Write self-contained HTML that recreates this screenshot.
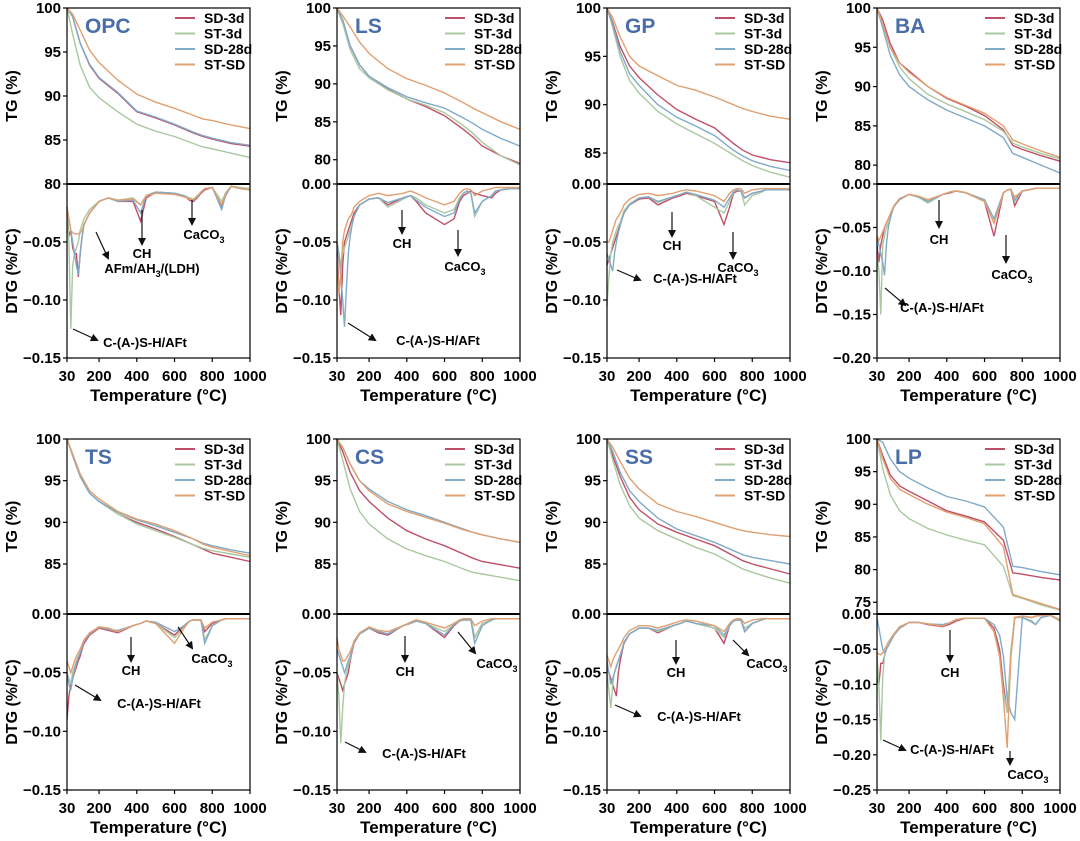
<!DOCTYPE html>
<html><head><meta charset="utf-8"><style>
html,body{margin:0;padding:0;background:#fff;}
svg{display:block;font-family:"Liberation Sans",Arial,sans-serif;}
</style></head><body>
<svg id="fig" width="1080" height="841" viewBox="0 0 1080 841" xmlns="http://www.w3.org/2000/svg">
<defs><marker id="ah" markerWidth="8" markerHeight="8" refX="6" refY="4" orient="auto" markerUnits="userSpaceOnUse"><path d="M0,0 L8,4 L0,8 Z" fill="#111"/></marker></defs>
</svg>
<script>
const seriesNames = ["SD-3d","ST-3d","SD-28d","ST-SD"];
const seriesColors = ["#c05068","#a9c8a0","#80aac8","#e0a070"];
const tgTemps = [30,60,100,150,200,300,400,500,600,700,750,800,900,1000];
const dtgTemps = [30,40,50,60,70,80,90,100,110,120,150,200,250,300,380,420,450,500,600,650,680,700,720,740,760,800,850,870,900,950,1000];
const xTicks = [30,200,400,600,800,1000];

const opcTG = [
[100,99,96,93.5,92,90.3,88.2,87.5,86.7,85.8,85.4,85.1,84.6,84.3],
[100,97,93.5,91,89.8,88.2,86.8,86,85.4,84.6,84.2,84,83.5,83],
[100,99,96,93.6,92.1,90.4,88.3,87.6,86.8,85.9,85.5,85.2,84.7,84.4],
[100,99.3,97.5,95.2,93.8,91.8,90.2,89.3,88.6,87.8,87.4,87.2,86.7,86.3]];
const opcDTG = [
[-0.02,-0.045,-0.04,-0.055,-0.06,-0.06,-0.08,-0.06,-0.045,-0.035,-0.025,-0.015,-0.012,-0.015,-0.015,-0.032,-0.012,-0.007,-0.008,-0.01,-0.014,-0.015,-0.012,-0.008,-0.005,-0.003,-0.02,-0.01,-0.002,-0.004,-0.005],
[-0.02,-0.05,-0.125,-0.07,-0.06,-0.055,-0.05,-0.04,-0.035,-0.03,-0.022,-0.015,-0.012,-0.014,-0.012,-0.018,-0.01,-0.007,-0.008,-0.01,-0.012,-0.013,-0.01,-0.007,-0.004,-0.003,-0.015,-0.008,-0.002,-0.003,-0.004],
[-0.02,-0.03,-0.04,-0.05,-0.06,-0.07,-0.078,-0.06,-0.045,-0.035,-0.025,-0.015,-0.012,-0.015,-0.014,-0.025,-0.01,-0.007,-0.008,-0.01,-0.013,-0.014,-0.011,-0.007,-0.004,-0.003,-0.022,-0.01,-0.002,-0.004,-0.005],
[-0.02,-0.03,-0.04,-0.042,-0.043,-0.043,-0.043,-0.042,-0.04,-0.035,-0.025,-0.015,-0.012,-0.014,-0.013,-0.018,-0.01,-0.008,-0.009,-0.011,-0.013,-0.014,-0.011,-0.007,-0.004,-0.003,-0.018,-0.008,-0.002,-0.004,-0.005]];

const lsTG = [
[100,98,95,92.5,91,89.3,88,87,85.8,84,83,81.8,80.5,79.5],
[100,98,94.5,92,90.8,89.2,88,87.2,86.2,84.5,83.5,82.3,80.5,79.3],
[100,98.5,95,92.5,91,89.5,88.3,87.5,86.8,85.5,84.8,84,82.8,81.8],
[100,99,97.5,95.5,94,92,90.7,89.8,88.8,87.5,86.8,86.2,85,84]];
const lsDTG = [
[-0.05,-0.09,-0.113,-0.07,-0.05,-0.045,-0.04,-0.035,-0.03,-0.025,-0.018,-0.013,-0.012,-0.018,-0.012,-0.01,-0.015,-0.025,-0.035,-0.03,-0.015,-0.01,-0.008,-0.006,-0.008,-0.01,-0.012,-0.008,-0.005,-0.004,-0.004],
[-0.05,-0.06,-0.07,-0.06,-0.055,-0.05,-0.045,-0.04,-0.035,-0.028,-0.018,-0.013,-0.012,-0.02,-0.013,-0.01,-0.012,-0.018,-0.025,-0.022,-0.012,-0.008,-0.006,-0.008,-0.028,-0.015,-0.01,-0.006,-0.005,-0.004,-0.004],
[-0.05,-0.06,-0.08,-0.1,-0.123,-0.09,-0.06,-0.045,-0.035,-0.028,-0.018,-0.013,-0.012,-0.016,-0.012,-0.01,-0.014,-0.02,-0.028,-0.025,-0.013,-0.008,-0.006,-0.008,-0.025,-0.015,-0.01,-0.006,-0.005,-0.004,-0.004],
[-0.06,-0.095,-0.08,-0.05,-0.04,-0.035,-0.03,-0.028,-0.025,-0.02,-0.015,-0.01,-0.008,-0.01,-0.008,-0.006,-0.008,-0.012,-0.018,-0.015,-0.008,-0.005,-0.004,-0.005,-0.01,-0.006,-0.004,-0.003,-0.003,-0.003,-0.003]];

const gpTG = [
[100,98.5,96,94,92.8,91,89.5,88.5,87.6,86,85.3,84.8,84.3,84],
[100,98,95,92.5,91.2,89.3,88,87,86,84.8,84.2,83.7,83,82.5],
[100,98.3,95.5,93.2,92,90,88.7,87.8,86.8,85.3,84.7,84.2,83.6,83.2],
[100,99,97,95,94,93,92,91.5,90.8,90,89.6,89.3,88.8,88.5]];
const gpDTG = [
[-0.07,-0.065,-0.06,-0.055,-0.05,-0.045,-0.04,-0.035,-0.03,-0.025,-0.018,-0.013,-0.012,-0.018,-0.012,-0.01,-0.008,-0.01,-0.015,-0.035,-0.02,-0.008,-0.006,-0.006,-0.012,-0.008,-0.006,-0.005,-0.005,-0.005,-0.005],
[-0.105,-0.08,-0.06,-0.05,-0.045,-0.04,-0.036,-0.033,-0.028,-0.023,-0.017,-0.012,-0.011,-0.016,-0.011,-0.009,-0.007,-0.01,-0.02,-0.025,-0.015,-0.007,-0.005,-0.006,-0.018,-0.01,-0.007,-0.005,-0.005,-0.005,-0.005],
[-0.06,-0.065,-0.07,-0.075,-0.06,-0.05,-0.042,-0.036,-0.03,-0.025,-0.018,-0.012,-0.011,-0.015,-0.011,-0.009,-0.007,-0.009,-0.014,-0.02,-0.012,-0.007,-0.005,-0.006,-0.012,-0.008,-0.006,-0.005,-0.005,-0.005,-0.005],
[-0.05,-0.05,-0.045,-0.04,-0.035,-0.03,-0.028,-0.025,-0.022,-0.018,-0.013,-0.009,-0.008,-0.01,-0.008,-0.006,-0.005,-0.006,-0.01,-0.015,-0.008,-0.005,-0.004,-0.004,-0.008,-0.005,-0.004,-0.004,-0.004,-0.004,-0.004]];

const baTG = [
[100,98.5,95.5,93,92,90,88.5,87.5,86.3,84.5,82.5,82,81.2,80.5],
[100,98,95,92.5,91,89,87.8,86.8,85.8,84.3,82.8,82.3,81.5,80.8],
[100,97.5,94,91.5,90,88.3,87,86,85,83.5,81.5,81,80,79],
[100,98,95,93,91.8,90,88.6,87.6,86.6,85,83.2,82.7,81.8,81]];
const baDTG = [
[-0.07,-0.09,-0.07,-0.06,-0.05,-0.045,-0.04,-0.035,-0.03,-0.025,-0.017,-0.012,-0.015,-0.02,-0.012,-0.01,-0.008,-0.01,-0.02,-0.06,-0.03,-0.01,-0.007,-0.006,-0.025,-0.008,-0.006,-0.005,-0.005,-0.005,-0.005],
[-0.08,-0.1,-0.15,-0.07,-0.06,-0.05,-0.045,-0.04,-0.032,-0.026,-0.018,-0.012,-0.015,-0.022,-0.012,-0.009,-0.008,-0.01,-0.02,-0.045,-0.025,-0.01,-0.007,-0.006,-0.02,-0.008,-0.006,-0.005,-0.005,-0.005,-0.005],
[-0.06,-0.07,-0.08,-0.09,-0.105,-0.07,-0.05,-0.04,-0.032,-0.026,-0.018,-0.012,-0.015,-0.02,-0.012,-0.009,-0.008,-0.01,-0.018,-0.04,-0.022,-0.01,-0.007,-0.006,-0.018,-0.008,-0.006,-0.005,-0.005,-0.005,-0.005],
[-0.06,-0.065,-0.06,-0.055,-0.05,-0.045,-0.04,-0.035,-0.03,-0.025,-0.017,-0.012,-0.014,-0.018,-0.012,-0.009,-0.008,-0.01,-0.02,-0.045,-0.025,-0.01,-0.007,-0.006,-0.015,-0.008,-0.006,-0.005,-0.005,-0.005,-0.005]];

const tsTG = [
[100,98,95.5,93.5,92.5,91,90,89.2,88.3,87.3,86.8,86.3,85.8,85.3],
[100,98,95.5,93.5,92.5,91,89.8,89,88.2,87.3,86.9,86.6,86.2,85.8],
[100,98,95.5,93.5,92.5,91.2,90.3,89.6,88.8,88,87.5,87.2,86.7,86.3],
[100,98.2,95.8,93.8,92.8,91.3,90.4,89.8,89,88,87.4,87,86.5,86]];
const tsDTG = [
[-0.09,-0.07,-0.06,-0.055,-0.05,-0.045,-0.04,-0.036,-0.03,-0.025,-0.018,-0.012,-0.014,-0.016,-0.01,-0.008,-0.006,-0.008,-0.018,-0.01,-0.006,-0.005,-0.005,-0.005,-0.015,-0.008,-0.005,-0.004,-0.004,-0.004,-0.004],
[-0.05,-0.055,-0.06,-0.05,-0.045,-0.04,-0.036,-0.033,-0.028,-0.023,-0.017,-0.011,-0.013,-0.015,-0.01,-0.008,-0.006,-0.008,-0.02,-0.012,-0.006,-0.005,-0.005,-0.005,-0.022,-0.01,-0.005,-0.004,-0.004,-0.004,-0.004],
[-0.05,-0.06,-0.065,-0.055,-0.048,-0.042,-0.037,-0.033,-0.028,-0.023,-0.017,-0.011,-0.013,-0.014,-0.01,-0.008,-0.006,-0.007,-0.015,-0.01,-0.006,-0.005,-0.005,-0.005,-0.025,-0.01,-0.005,-0.004,-0.004,-0.004,-0.004],
[-0.04,-0.045,-0.05,-0.045,-0.04,-0.036,-0.033,-0.03,-0.026,-0.022,-0.016,-0.011,-0.012,-0.015,-0.01,-0.008,-0.006,-0.008,-0.025,-0.012,-0.006,-0.005,-0.005,-0.005,-0.012,-0.007,-0.005,-0.004,-0.004,-0.004,-0.004]];

const csTG = [
[100,98.5,96,93.8,92.5,90.5,89,88,87.2,86.2,85.7,85.3,84.9,84.5],
[100,97.5,94,91.3,89.8,88,86.8,86,85.3,84.4,84,83.8,83.4,83],
[100,99,97,95,94,92.5,91.5,90.8,90,89.2,88.8,88.5,88,87.6],
[100,99,97,95,93.8,92.2,91.3,90.6,89.9,89.1,88.8,88.5,88,87.6]];
const csDTG = [
[-0.05,-0.055,-0.06,-0.065,-0.06,-0.055,-0.05,-0.04,-0.032,-0.025,-0.017,-0.012,-0.016,-0.018,-0.01,-0.008,-0.006,-0.008,-0.02,-0.01,-0.006,-0.005,-0.005,-0.005,-0.02,-0.008,-0.005,-0.004,-0.004,-0.004,-0.004],
[-0.05,-0.07,-0.11,-0.08,-0.06,-0.05,-0.044,-0.038,-0.03,-0.024,-0.017,-0.012,-0.015,-0.017,-0.01,-0.008,-0.006,-0.008,-0.015,-0.009,-0.006,-0.005,-0.005,-0.005,-0.02,-0.008,-0.005,-0.004,-0.004,-0.004,-0.004],
[-0.03,-0.035,-0.04,-0.045,-0.05,-0.045,-0.04,-0.036,-0.03,-0.024,-0.017,-0.012,-0.015,-0.017,-0.01,-0.008,-0.006,-0.008,-0.018,-0.009,-0.006,-0.005,-0.005,-0.005,-0.025,-0.01,-0.005,-0.004,-0.004,-0.004,-0.004],
[-0.02,-0.03,-0.035,-0.04,-0.04,-0.038,-0.035,-0.032,-0.028,-0.023,-0.016,-0.011,-0.014,-0.015,-0.01,-0.007,-0.005,-0.007,-0.012,-0.008,-0.005,-0.004,-0.004,-0.004,-0.01,-0.006,-0.004,-0.004,-0.004,-0.004,-0.004]];

const ssTG = [
[100,98,95.5,93,91.5,89.8,88.8,88,87.2,86,85.4,85,84.4,83.8],
[100,97.5,94.5,92,90.5,89,88,87,86.2,85,84.4,84,83.3,82.7],
[100,98.5,96,93.8,92.5,90.5,89.2,88.4,87.6,86.6,86.1,85.8,85.4,85],
[100,99,97.3,95.3,94,92.2,91.3,90.7,90,89.3,89,88.8,88.5,88.3]];
const ssDTG = [
[-0.045,-0.05,-0.055,-0.06,-0.065,-0.07,-0.05,-0.04,-0.032,-0.025,-0.017,-0.012,-0.012,-0.016,-0.01,-0.008,-0.006,-0.008,-0.012,-0.025,-0.01,-0.006,-0.005,-0.005,-0.015,-0.008,-0.005,-0.004,-0.004,-0.004,-0.004],
[-0.05,-0.065,-0.08,-0.06,-0.05,-0.044,-0.04,-0.035,-0.03,-0.024,-0.017,-0.012,-0.012,-0.015,-0.01,-0.008,-0.006,-0.008,-0.012,-0.02,-0.01,-0.006,-0.005,-0.005,-0.012,-0.008,-0.005,-0.004,-0.004,-0.004,-0.004],
[-0.04,-0.05,-0.06,-0.055,-0.05,-0.045,-0.04,-0.035,-0.03,-0.024,-0.017,-0.012,-0.012,-0.014,-0.01,-0.008,-0.006,-0.008,-0.01,-0.018,-0.01,-0.006,-0.005,-0.005,-0.015,-0.008,-0.005,-0.004,-0.004,-0.004,-0.004],
[-0.035,-0.04,-0.045,-0.04,-0.036,-0.033,-0.03,-0.027,-0.024,-0.02,-0.014,-0.01,-0.01,-0.012,-0.008,-0.006,-0.005,-0.006,-0.01,-0.015,-0.008,-0.005,-0.004,-0.004,-0.008,-0.005,-0.004,-0.004,-0.004,-0.004,-0.004]];

const lpTG = [
[100,97.5,94.5,92.8,92,90.5,89,88.2,87.3,84.5,79.5,79.3,78.8,78.4],
[100,95.5,91.5,89,87.8,86.3,85.3,84.5,83.8,80.5,76,75.6,74.6,73.8],
[100,99.5,97,95,94,92.5,91.2,90.5,89.6,86.5,80.5,80.3,79.7,79.2],
[100,97,94,92.3,91.5,90,88.8,88,87,83.5,76.2,75.7,74.8,73.9]];
const lpDTG = [
[-0.09,-0.1,-0.07,-0.07,-0.06,-0.05,-0.045,-0.04,-0.035,-0.03,-0.02,-0.012,-0.012,-0.015,-0.018,-0.014,-0.01,-0.006,-0.006,-0.02,-0.05,-0.1,-0.14,-0.06,-0.005,-0.003,-0.005,-0.003,-0.002,-0.002,-0.01],
[-0.06,-0.1,-0.18,-0.09,-0.06,-0.05,-0.045,-0.04,-0.035,-0.03,-0.02,-0.012,-0.012,-0.014,-0.016,-0.012,-0.008,-0.006,-0.006,-0.025,-0.06,-0.11,-0.14,-0.05,-0.005,-0.005,-0.012,-0.015,-0.005,-0.002,-0.01],
[-0.005,-0.02,-0.035,-0.05,-0.055,-0.05,-0.045,-0.04,-0.035,-0.03,-0.02,-0.012,-0.012,-0.014,-0.015,-0.012,-0.008,-0.006,-0.006,-0.015,-0.03,-0.06,-0.12,-0.14,-0.15,-0.005,-0.01,-0.015,-0.005,-0.002,-0.008],
[-0.055,-0.057,-0.058,-0.055,-0.05,-0.045,-0.04,-0.036,-0.032,-0.028,-0.018,-0.012,-0.012,-0.014,-0.017,-0.012,-0.008,-0.006,-0.006,-0.025,-0.06,-0.12,-0.19,-0.06,-0.005,-0.003,-0.005,-0.003,-0.002,-0.002,-0.008]];

const panelNames = ["OPC","LS","GP","BA","TS","CS","SS","LP"];
const panelTG = [opcTG,lsTG,gpTG,baTG,tsTG,csTG,ssTG,lpTG];
const panelDTG = [opcDTG,lsDTG,gpDTG,baDTG,tsDTG,csDTG,ssDTG,lpDTG];
const tgMins = [80,76.8,81.8,77.6,79,79,79,73.2];
const tgTickSets = [[80,85,90,95,100],[80,85,90,95,100],[85,90,95,100],[80,85,90,95,100],[85,90,95,100],[85,90,95,100],[85,90,95,100],[75,80,85,90,95,100]];
const dtgMins = [-0.15,-0.15,-0.15,-0.2,-0.15,-0.15,-0.15,-0.25];

const svg = document.getElementById('fig');
const NS = 'http://www.w3.org/2000/svg';
function mk(tag, attrs, parent){ const e=document.createElementNS(NS,tag); for(const k in attrs) e.setAttribute(k,attrs[k]); (parent||svg).appendChild(e); return e; }

const PW = 183;
for(let p=0;p<8;p++){
  const col=p%4, row=Math.floor(p/4);
  const L = 67+col*270;
  const top = row===0?8:439, div = row===0?184:614, bot = row===0?358:790;
  const g = mk('g',{});
  
  
  const xs = t => L + (t-30)/970*PW;
  const tgMin = tgMins[p];
  const yTG = v => top + (100-v)/(100-tgMin)*(div-top);
  const yD = v => div + (v/dtgMins[p])*(bot-div);
  for(let s=0;s<4;s++){
    let d=''; tgTemps.forEach((t,i)=>{ d+=(i?'L':'M')+xs(t).toFixed(1)+','+yTG(panelTG[p][s][i]).toFixed(1); });
    const pl = mk('path',{d:d,fill:'none',stroke:seriesColors[s],'stroke-width':1.4},g);
    
    
    let d2=''; dtgTemps.forEach((t,i)=>{ d2+=(i?'L':'M')+xs(t).toFixed(1)+','+yD(panelDTG[p][s][i]).toFixed(1); });
    const pl2 = mk('path',{d:d2,fill:'none',stroke:seriesColors[s],'stroke-width':1.4},g);
    
    
  }
  mk('rect',{x:L,y:top,width:PW,height:bot-top,fill:'none',stroke:'#000','stroke-width':1.2},g);
  mk('line',{x1:L,x2:L+PW,y1:div,y2:div,stroke:'#000','stroke-width':2},g);
  xTicks.forEach(t=>{
    mk('line',{x1:xs(t),x2:xs(t),y1:bot,y2:bot+4,stroke:'#000','stroke-width':1.2},g);
    const tx = mk('text',{x:xs(t),y:bot+23,'text-anchor':'middle','font-size':15,'font-weight':'bold'},g);
    tx.textContent=t;
    
    
  });
  tgTickSets[p].forEach(v=>{
    const y=yTG(v);
    mk('line',{x1:L-4,x2:L,y1:y,y2:y,stroke:'#000','stroke-width':1.2},g);
    const tx=mk('text',{x:L-6,y:y+5,'text-anchor':'end','font-size':15,'font-weight':'bold'},g);
    tx.textContent=v;
    
    
  });
  for(let v=0; v>=dtgMins[p]-1e-9; v-=0.05){
    if(p===0 && v===0) continue;
    const y=yD(v);
    mk('line',{x1:L-4,x2:L,y1:y,y2:y,stroke:'#000','stroke-width':1.2},g);
    const tx=mk('text',{x:L-6,y:y+5,'text-anchor':'end','font-size':15,'font-weight':'bold'},g);
    tx.textContent = Math.abs(v)<1e-9 ? '0.00' : '\u2212'+Math.abs(v).toFixed(2);
    
    
  }
  const xt=mk('text',{x:L+PW/2,y:bot+43,'text-anchor':'middle','font-size':17,'font-weight':'bold'},g);
  xt.textContent='Temperature (\u00B0C)';
  
  
  const ty=(top+div)/2, tyx=L-50;
  const t1=mk('text',{x:tyx,y:ty,'text-anchor':'middle','font-size':16,'font-weight':'bold',transform:`rotate(-90 ${tyx} ${ty})`},g);
  t1.textContent='TG (%)';
  
  
  const dy=(div+bot)/2;
  const t2=mk('text',{x:tyx,y:dy,'text-anchor':'middle','font-size':16,'font-weight':'bold',transform:`rotate(-90 ${tyx} ${dy})`},g);
  t2.textContent='DTG (%/\u00B0C)';
  
  
  const pt=mk('text',{x:L+18,y:top+25,'font-size':21,'font-weight':'bold',fill:'#4a6ea8'},g);
  pt.textContent=panelNames[p];
  
  
  for(let s=0;s<4;s++){
    const ly=top+10+s*15.5;
    mk('line',{x1:L+108,x2:L+128,y1:ly,y2:ly,stroke:seriesColors[s],'stroke-width':2},g);
    const lt=mk('text',{x:L+137,y:ly+5,'font-size':14,'font-weight':'bold'},g);
    lt.textContent=seriesNames[s];
    
    
  }
}

const annotations = [
["CH",142,258,142,210,142,244],["CaCO|3",204,239,192,200,192,224],["AFm/AH|3|/(LDH)",152,273,96,232,108,258],["C-(A-)S-H/AFt",145,347,73,329,97,340],
["CH",402,248,402,210,402,233],["CaCO|3",465,271,458,230,458,255],["C-(A-)S-H/AFt",438,345,348,323,375,340],
["CH",672,250,672,212,672,236],["CaCO|3",738,272,733,232,733,258],["C-(A-)S-H/AFt",695,283,617,270,640,280],
["CH",939,244,939,200,939,227],["CaCO|3",1012,279,1006,235,1006,262],["C-(A-)S-H/AFt",942,312,885,288,905,305],
["CH",131,675,131,637,131,661],["CaCO|3",212,663,178,627,192,648],["C-(A-)S-H/AFt",159,708,75,685,100,700],
["CH",405,676,405,636,405,661],["CaCO|3",497,668,458,632,475,653],["C-(A-)S-H/AFt",424,758,345,742,365,752],
["CH",676,677,676,640,676,663],["CaCO|3",767,668,733,640,748,655],["C-(A-)S-H/AFt",699,721,615,705,640,716],
["CH",950,677,950,630,950,661],["CaCO|3",1028,779,1010,751,1010,764],["C-(A-)S-H/AFt",952,754,883,740,905,750]
];
annotations.forEach(a=>{
  const ar=mk('line',{x1:a[3],y1:a[4],x2:a[5],y2:a[6],stroke:'#111','stroke-width':1.2,'marker-end':'url(#ah)'});
  
  
  const t=mk('text',{x:a[1],y:a[2],'text-anchor':'middle','font-size':13,'font-weight':'bold'});
  
  
  const parts=a[0].split('|');
  parts.forEach((s,i)=>{ if(!s) return; const ts=document.createElementNS(NS,'tspan'); ts.textContent=s; if(i%2===1){ts.setAttribute('font-size','9');ts.setAttribute('dy','4');} else if(i>0){ts.setAttribute('dy','-4');} t.appendChild(ts); });
});
</script>
</body></html>
